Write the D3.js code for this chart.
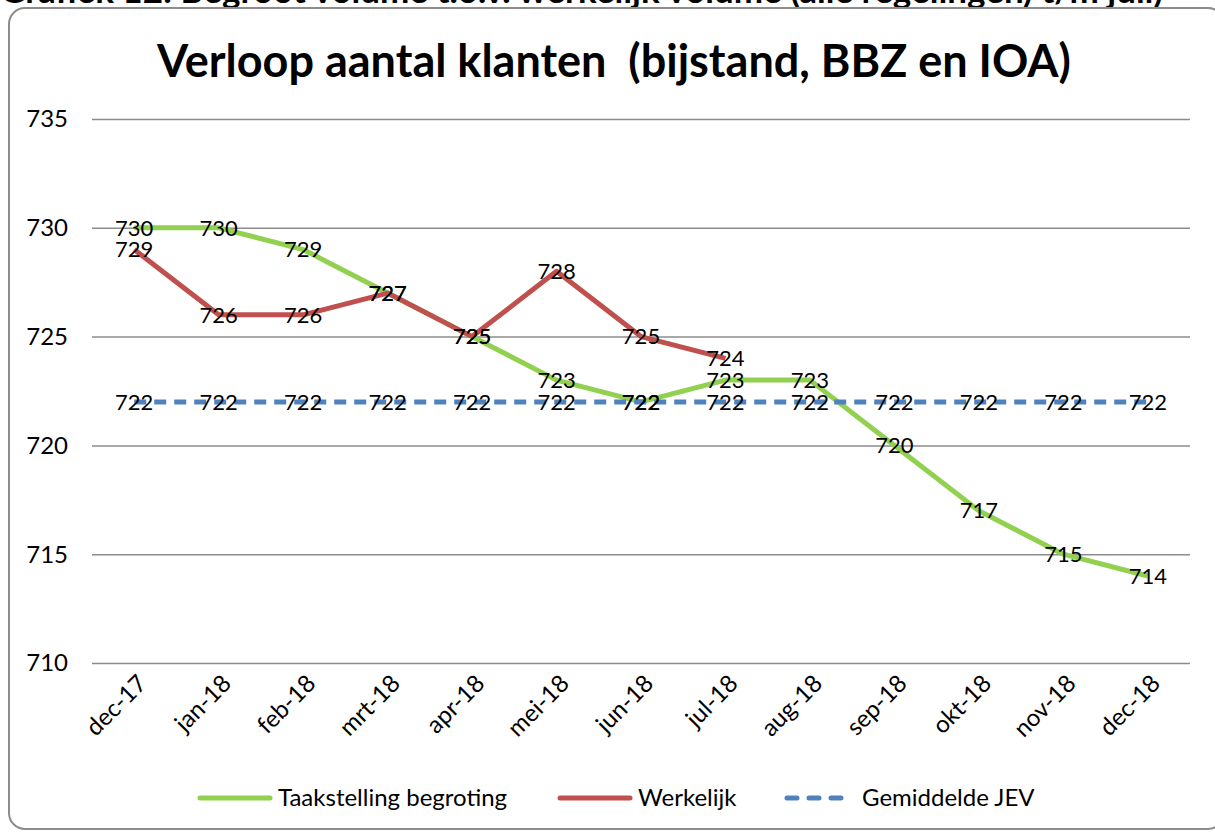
<!DOCTYPE html>
<html lang="nl">
<head>
  <meta charset="UTF-8">
  <title>Verloop aantal klanten</title>
  <script src="https://d3js.org/d3.v7.min.js"></script>
  <style>
    body { margin: 0; background: #fff; }
    svg { display: block; }
    text { font-family: Lato, "Open Sans", sans-serif; fill: #000; }
  </style>
</head>
<body>
  <svg width="1215" height="832"></svg>
  <script>

    // gegevens
    const maanden = ['dec-17', 'jan-18', 'feb-18', 'mrt-18', 'apr-18', 'mei-18', 'jun-18',
                     'jul-18', 'aug-18', 'sep-18', 'okt-18', 'nov-18', 'dec-18'];
    const taakstelling = [730, 730, 729, 727, 725, 723, 722, 723, 723, 720, 717, 715, 714];
    const werkelijk = [729, 726, 726, 727, 725, 728, 725, 724];
    const jev = [722, 722, 722, 722, 722, 722, 722, 722, 722, 722, 722, 722, 722];
    const yTicks = [710, 715, 720, 725, 730, 735];

    const series = [
      {naam: 'Taakstelling begroting', waarden: taakstelling, kleur: '#92d050', dash: null},
      {naam: 'Werkelijk', waarden: werkelijk, kleur: '#c0504d', dash: null},
      {naam: 'Gemiddelde JEV', waarden: jev, kleur: '#4f81bd', dash: '12,8'}
    ];

    const svg = d3.select('svg');

    // afgesneden koptekst boven de grafiek
    svg.append('text')
      .attr('x', 0).attr('y', 3)
      .style('font-size', '35px').style('font-weight', 'bold')
      .text('Grafiek 12: Begroot volume t.o.v. werkelijk volume (alle regelingen) t/m juli)');

    // kader
    svg.append('rect')
      .attr('x', 9).attr('y', 8)
      .attr('width', 1215).attr('height', 821)
      .attr('rx', 16)
      .attr('fill', '#fff')
      .attr('stroke', '#8c8c8c')
      .attr('stroke-width', 2);

    // titel
    svg.append('text')
      .attr('x', 614).attr('y', 77)
      .attr('text-anchor', 'middle')
      .style('font-size', '45px').style('font-weight', 'bold')
      .style('white-space', 'pre')
      .text('Verloop aantal klanten  (bijstand, BBZ en IOA)');

    const plot = {left: 92, right: 1190, top: 119, bottom: 663};

    const x = d3.scaleBand()
      .domain(maanden)
      .range([plot.left, plot.right]);
    const xc = m => x(m) + x.bandwidth() / 2;

    const y = d3.scaleLinear()
      .domain([710, 735])
      .range([plot.bottom, plot.top]);

    // rasterlijnen
    svg.append('g')
      .attr('transform', `translate(${plot.left},0)`)
      .call(d3.axisLeft(y).tickValues(yTicks).tickSize(-(plot.right - plot.left)).tickFormat(''))
      .call(g => g.select('.domain').remove())
      .call(g => g.selectAll('line').attr('stroke', '#8c8c8c').attr('stroke-width', 1.5));

    // y-as labels
    svg.append('g').selectAll('text')
      .data(yTicks)
      .enter().append('text')
      .attr('x', 68)
      .attr('y', d => y(d))
      .attr('dy', '0.35em')
      .attr('text-anchor', 'end')
      .style('font-size', '24px')
      .text(d => d);

    // x-as labels
    svg.append('g').selectAll('text')
      .data(maanden)
      .enter().append('text')
      .attr('transform', d => `translate(${xc(d) + 8},${plot.bottom + 16}) rotate(-45)`)
      .attr('text-anchor', 'end')
      .attr('dy', '0.35em')
      .style('font-size', '24px')
      .text(d => d);

    // lijnen
    const line = d3.line()
      .x((d, i) => xc(maanden[i]))
      .y(d => y(d));

    series.forEach(s => {
      svg.append('path')
        .datum(s.waarden)
        .attr('fill', 'none')
        .attr('stroke', s.kleur)
        .attr('stroke-width', 5)
        .attr('stroke-linejoin', 'round')
        .attr('stroke-dasharray', s.dash)
        .attr('d', line);
    });

    // waardelabels
    series.forEach(s => {
      svg.append('g').selectAll('text')
        .data(s.waarden)
        .enter().append('text')
        .attr('x', (d, i) => xc(maanden[i]))
        .attr('y', d => y(d))
        .attr('dy', '0.35em')
        .attr('text-anchor', 'middle')
        .style('font-size', '22px')
        .text(d => d);
    });

    // legenda
    const legX = [200, 560, 782];
    const leg = svg.append('g').selectAll('g')
      .data(series)
      .enter().append('g')
      .attr('transform', (d, i) => `translate(${legX[i]},798)`);

    leg.append('line')
      .attr('x1', d => d.dash ? 5 : 0).attr('x2', 70)
      .attr('stroke', d => d.kleur)
      .attr('stroke-width', 5)
      .attr('stroke-linecap', 'round')
      .attr('stroke-dasharray', d => d.dash ? '10,12' : null);

    leg.append('text')
      .attr('x', d => d.dash ? 80 : 78)
      .attr('dy', '0.35em')
      .style('font-size', '24px')
      .text(d => d.naam);

  </script>
</body>
</html>
